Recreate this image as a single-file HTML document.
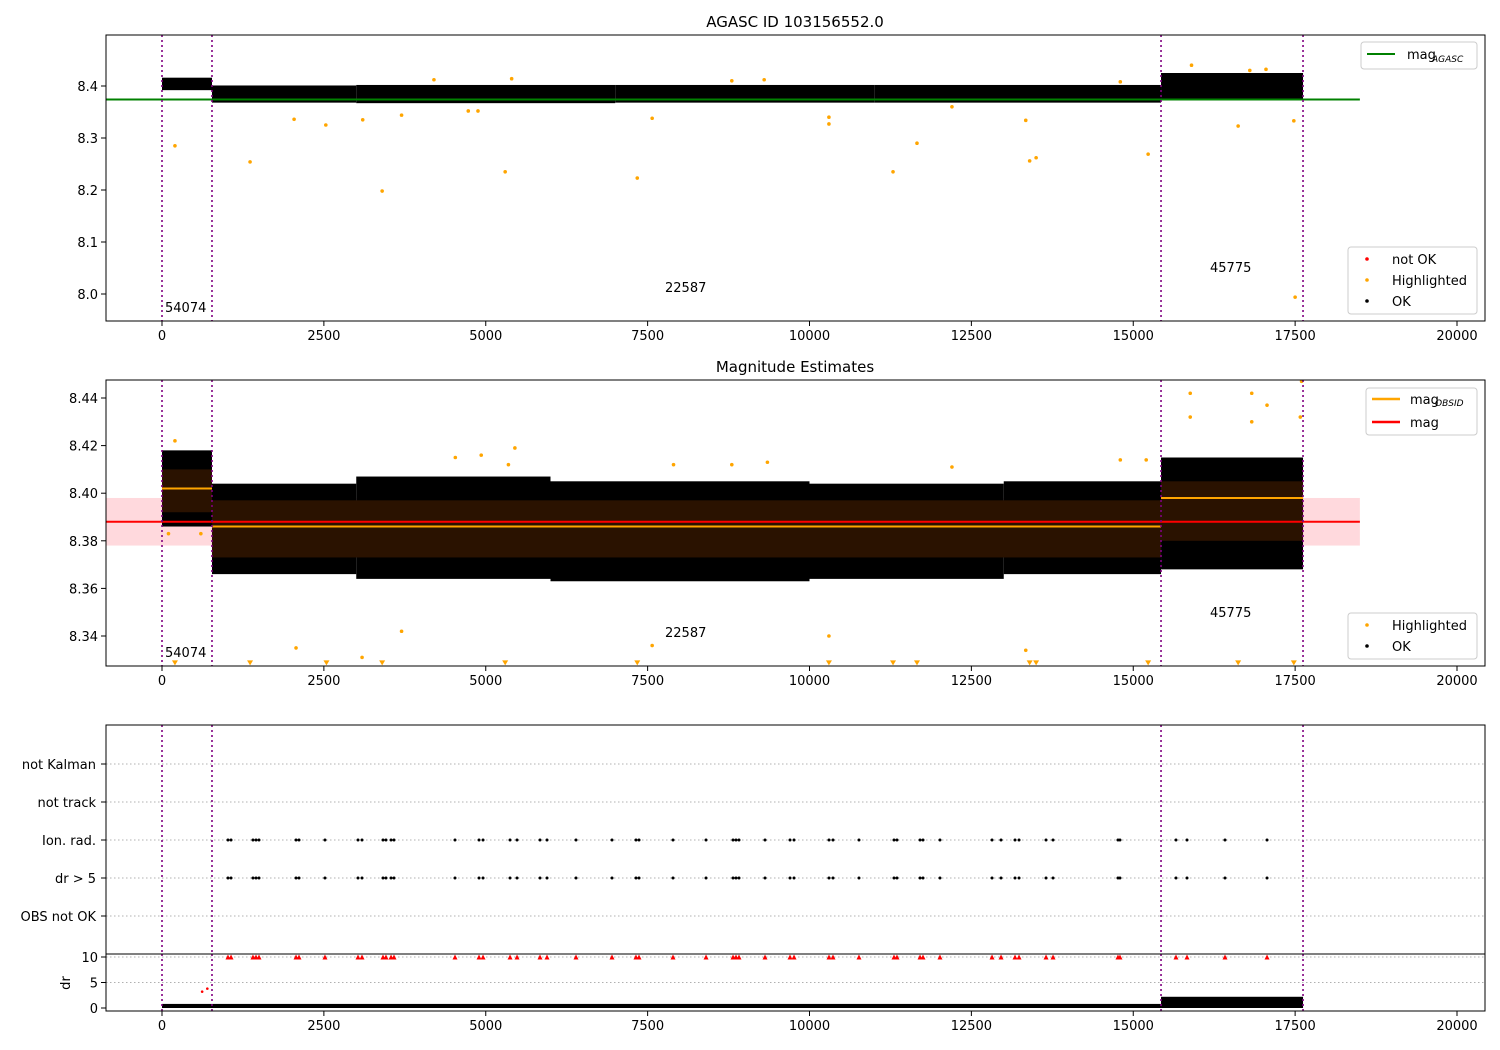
<!DOCTYPE html>
<html><head><meta charset="utf-8">
<style>
body{margin:0;background:#fff;}
svg{display:block;font-family:"DejaVu Sans","Liberation Sans",sans-serif;}
</style></head>
<body>
<svg id="chart" width="1500" height="1050" viewBox="0 0 1500 1050" xmlns="http://www.w3.org/2000/svg">
</svg>
<script>
// ---- data ----
const xTicks = [0,2500,5000,7500,10000,12500,15000,17500,20000];
const obsBounds = [0,772,15429,17622];
const obsIds = ["54074","22587","45775"];
const p1YTicks = [8.0,8.1,8.2,8.3,8.4];
const p2YTicks = [8.34,8.36,8.38,8.40,8.42,8.44];
const p4YTicks = [0,5,10];
const categories = ["OBS not OK","dr > 5","Ion. rad.","not track","not Kalman"];
const magAgasc = 8.374;
const magMean = 8.388, magStd = 0.010;
const obsMags = [8.402,8.386,8.398];
// dense OK envelopes: [xStart,xEnd,yMin,yMax]
const p1Band = [[0,772,8.392,8.416],[772,3000,8.368,8.401],[3000,7000,8.367,8.402],[7000,11000,8.368,8.402],[11000,15429,8.368,8.402],[15429,17622,8.374,8.425]];
const p2Band = [[0,772,8.386,8.418],[772,3000,8.366,8.404],[3000,6000,8.364,8.407],[6000,10000,8.363,8.405],[10000,13000,8.364,8.404],[13000,15429,8.366,8.405],[15429,17622,8.368,8.415]];
const p2Core = [[0,772,8.392,8.410],[772,15429,8.373,8.397],[15429,17622,8.380,8.405]];
const p1HighX = [200,1360,3400,5300,7340,11290,11660,13400,13500,15230,16620,17480,17500,2040,2530,3100,3700,4730,4880,7570,10300,10300,13340,4200,5400,8800,9300,12200,14800,15900,16800,17050];
const p1HighY = [8.285,8.254,8.198,8.235,8.223,8.235,8.290,8.256,8.262,8.269,8.323,8.333,7.994,8.336,8.325,8.335,8.344,8.352,8.352,8.338,8.340,8.327,8.334,8.412,8.414,8.410,8.412,8.360,8.408,8.440,8.430,8.432];
const p2HighX = [2070,3090,3700,7570,10300,13340,15880,15880,16830,16830,17066,17600,17580,4530,4930,5450,5350,7900,8800,9350,12200,14800,15200,100,200,600];
const p2HighY = [8.335,8.331,8.342,8.336,8.340,8.334,8.442,8.432,8.442,8.430,8.437,8.447,8.432,8.415,8.416,8.419,8.412,8.412,8.412,8.413,8.411,8.414,8.414,8.383,8.422,8.383];
const p2ClipX = [200,1360,2540,3400,5300,7340,10300,11290,11660,13400,13500,15230,16620,17480];
const flagX = [1019,1066,1405,1452,1498,2070,2116,2517,3027,3089,3413,3459,3537,3583,4525,4896,4958,5375,5483,5838,5946,6394,6950,7320,7367,7892,8402,8819,8865,8911,9313,9699,9761,10301,10363,10764,11305,11351,11707,11753,12015,12819,12958,13174,13236,13653,13761,14764,14795,15660,15830,16417,17066];
const drBand = [[0,15429,0.0,0.8],[15429,17622,0.0,2.2]];
const drRedX = [620,700];
const drRedY = [3.2,3.8];

// ---- helpers ----
const svg = document.getElementById('chart');
const NS = 'http://www.w3.org/2000/svg';
function mk(tag, attrs, parent){const e=document.createElementNS(NS,tag);for(const k in attrs)e.setAttribute(k,attrs[k]);(parent||svg).appendChild(e);return e;}
const L=106,R=1485;
const xs = v => 162 + v*0.06475;
const panels = {
 p1:{top:35,bot:321,y:v=>86+(8.4-v)*520},
 p2:{top:380,bot:666,y:v=>398+(8.44-v)*2380},
 p3:{top:725,bot:954,y:i=>916-i*38},
 p4:{top:954,bot:1011,y:v=>1008-v*5.1}
};
function clip(id,p){const c=mk('clipPath',{id:id});mk('rect',{x:L,y:p.top,width:R-L,height:p.bot-p.top},c);}
clip('c1',panels.p1);clip('c2',panels.p2);clip('c3',panels.p3);clip('c4',panels.p4);

function xAxis(p,name){
  for(const t of xTicks){const x=xs(t);
    mk('line',{x1:x,x2:x,y1:p.bot,y2:p.bot+5,stroke:'#000'});
    const tx=mk('text',{x:x,y:p.bot+19,'font-size':13,'text-anchor':'middle'});tx.textContent=t;
    
    }
}
function yAxis(p,ticks,name,fmt){
  for(const t of ticks){const y=p.y(t);
    mk('line',{x1:L-5,x2:L,y1:y,y2:y,stroke:'#000'});
    const tx=mk('text',{x:L-8,y:y+5,'font-size':13,'text-anchor':'end'});tx.textContent=fmt(t);
    
    }
}
function frame(p,name){const r=mk('rect',{x:L,y:p.top,width:R-L,height:p.bot-p.top,fill:'none',stroke:'#000','stroke-width':1});
  
  }
function vlines(p,g){for(const b of obsBounds){const x=xs(b);mk('line',{x1:x,x2:x,y1:p.top,y2:p.bot,stroke:'#800080','stroke-width':1.6,'stroke-dasharray':'2,3'},g);}}
function bands(arr,p,g,fill){for(const b of arr){const r=mk('rect',{x:xs(b[0]),y:p.y(b[3]),width:xs(b[1])-xs(b[0]),height:p.y(b[2])-p.y(b[3]),fill:fill},g);
  
  }}
function dots(xsArr,ysArr,p,g,color,r){for(let i=0;i<xsArr.length;i++){const c=mk('circle',{cx:xs(xsArr[i]),cy:p.y(ysArr[i]),r:r,fill:color},g);
  
  }}
function text(x,y,s,name,extra){const t=mk('text',Object.assign({x:x,y:y,'font-size':13},extra||{}));t.textContent=s;
  
  return t;}
function obsLabels(p,yv){const xsL=[165,665,1210];for(let i=0;i<3;i++)text(xsL[i],p.y(yv[i]),obsIds[i],'obsid-label');}

// ---- panel 1 ----
(function(){const p=panels.p1;const g=mk('g',{'clip-path':'url(#c1)'});
  
  
  bands(p1Band,p,g,'#000');
  mk('line',{x1:L,x2:xs(18500),y1:p.y(magAgasc),y2:p.y(magAgasc),stroke:'#008000','stroke-width':2},g);
  dots(p1HighX,p1HighY,p,g,'#ffa500',1.8);
  vlines(p,g);
  frame(p,'agasc-axes');xAxis(p,'p1-x');yAxis(p,p1YTicks,'p1-y',v=>v.toFixed(1));
  obsLabels(p,[7.9654,8.004,8.042]);
  text(795,27,'AGASC ID 103156552.0','title',{'font-size':15,'text-anchor':'middle'});
})();

// ---- panel 2 ----
(function(){const p=panels.p2;const g=mk('g',{'clip-path':'url(#c2)'});
  
  
  mk('rect',{x:L,y:p.y(magMean+magStd),width:xs(18500)-L,height:p.y(magMean-magStd)-p.y(magMean+magStd),fill:'#ffd9dd'},g);
  bands(p2Band,p,g,'#000');
  bands(p2Core,p,g,'#2a1200');
  mk('line',{x1:L,x2:xs(18500),y1:p.y(magMean),y2:p.y(magMean),stroke:'#ff0000','stroke-width':2},g);
  for(let i=0;i<3;i++){mk('line',{x1:xs(obsBounds[i]),x2:xs(obsBounds[i+1]),y1:p.y(obsMags[i]),y2:p.y(obsMags[i]),stroke:'#ffa500','stroke-width':2},g);}
  dots(p2HighX,p2HighY,p,g,'#ffa500',1.8);
  for(const x of p2ClipX){const t=mk('path',{d:`M${xs(x)-3},${p.y(8.3285)-3} L${xs(x)+3},${p.y(8.3285)-3} L${xs(x)},${p.y(8.3285)+2} Z`,fill:'#ffa500'},g);
    
    }
  vlines(p,g);
  frame(p,'magnitude-axes');xAxis(p,'p2-x');yAxis(p,p2YTicks,'p2-y',v=>v.toFixed(2));
  obsLabels(p,[8.3312,8.3396,8.3480]);
  text(795,372,'Magnitude Estimates','subtitle',{'font-size':15,'text-anchor':'middle'});
})();

// ---- panel 3 ----
(function(){const p=panels.p3;const g=mk('g',{'clip-path':'url(#c3)'});
  
  
  for(let i=0;i<categories.length;i++){const y=p.y(i);
    mk('line',{x1:L,x2:R,y1:y,y2:y,stroke:'#b0b0b0','stroke-dasharray':'1.5,2.5'},g);
    mk('line',{x1:L-5,x2:L,y1:y,y2:y,stroke:'#000'});
    text(L-10,y+5,categories[i],'category-label',{'text-anchor':'end'});}
  for(const x of flagX){for(const ci of [1,2]){const c=mk('circle',{cx:xs(x),cy:p.y(ci),r:1.5,fill:'#000'},g);
    
    }}
  vlines(p,g);
  frame(p,'flags-axes');
})();

// ---- panel 4 ----
(function(){const p=panels.p4;const g=mk('g',{'clip-path':'url(#c4)'});
  
  
  for(const v of [5,10])mk('line',{x1:L,x2:R,y1:p.y(v),y2:p.y(v),stroke:'#b0b0b0','stroke-dasharray':'1.5,2.5'},g);
  bands(drBand,p,g,'#000');
  for(const x of flagX){const t=mk('path',{d:`M${xs(x)-2.5},${p.y(10)+2.5} L${xs(x)+2.5},${p.y(10)+2.5} L${xs(x)},${p.y(10)-2.5} Z`,fill:'#ff0000'},g);
    
    }
  dots(drRedX,drRedY,p,g,'#ff0000',1.3);
  vlines(p,g);
  frame(p,'dr-axes');xAxis(p,'p4-x');yAxis(p,p4YTicks,'p4-y',v=>v);
  text(70,983,'dr','dr-axis-title',{'text-anchor':'middle',transform:'rotate(-90 70 983)'});
})();

// ---- legends ----
function legendBox(x,y,w,h,name){const r=mk('rect',{x:x,y:y,width:w,height:h,rx:3,fill:'#fff','fill-opacity':0.85,stroke:'#ccc'});
  
  }
legendBox(1361,42,116,27,'legend-agasc');
mk('line',{x1:1367,x2:1395,y1:54,y2:54,stroke:'#008000','stroke-width':2});
text(1407,59,'mag','legend-entry');text(1432,62,'AGASC','legend-entry-sub',{'font-size':9,'font-style':'italic'});
legendBox(1348,247,129,67,'legend-points');
[['not OK','#ff0000',259],['Highlighted','#ffa500',280],['OK','#000',301]].forEach(e=>{mk('circle',{cx:1367,cy:e[2],r:1.8,fill:e[1]});text(1392,e[2]+5,e[0],'legend-entry');});
legendBox(1366,388,111,47,'legend-mags');
mk('line',{x1:1372,x2:1400,y1:399,y2:399,stroke:'#ffa500','stroke-width':2.5});
text(1410,404,'mag','legend-entry');text(1435,406,'OBSID','legend-entry-sub',{'font-size':9,'font-style':'italic'});
mk('line',{x1:1372,x2:1400,y1:422,y2:422,stroke:'#ff0000','stroke-width':2.5});
text(1410,427,'mag','legend-entry');
legendBox(1348,613,129,46,'legend-points-2');
[['Highlighted','#ffa500',625],['OK','#000',646]].forEach(e=>{mk('circle',{cx:1367,cy:e[2],r:1.8,fill:e[1]});text(1392,e[2]+5,e[0],'legend-entry');});
</script>
</body></html>
